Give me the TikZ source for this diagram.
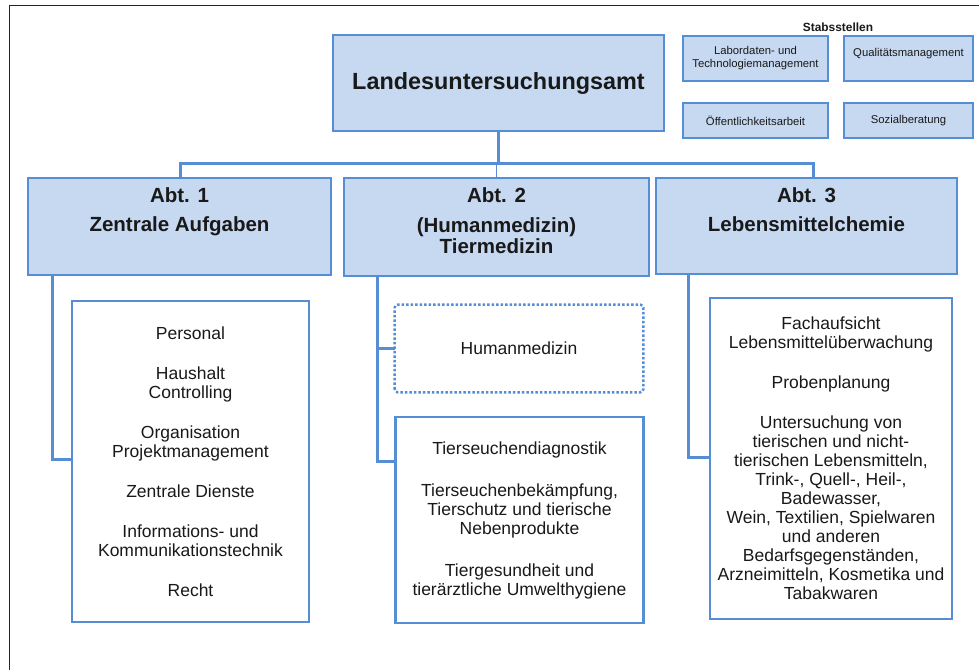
\documentclass[tikz,border=0pt]{standalone}
\usepackage{fontspec}
\setmainfont{Liberation Sans}
\usepackage{tikz}
\usetikzlibrary{positioning,calc}
\definecolor{lublau}{RGB}{85,142,213}
\definecolor{luhell}{RGB}{198,217,241}
\definecolor{lutext}{RGB}{25,25,25}

\begin{document}
\begin{tikzpicture}[
    x=1pt, y=-1pt,
    amt/.style={draw=lublau, line width=2.6pt, fill=luhell, inner sep=0pt, text=lutext, font=\bfseries\fontsize{23.4}{26}\selectfont},
    abt/.style={draw=lublau, line width=2.6pt, fill=luhell},
    abttxt/.style={anchor=north, inner sep=0pt, outer sep=0pt, align=center, text=lutext, font=\bfseries\fontsize{20.5}{20.5}\selectfont},
    inhalt/.style={draw=lublau, line width=2.6pt, fill=white, align=center, inner sep=2pt, text=lutext, font=\fontsize{17.5}{19}\selectfont},
    stab/.style={draw=lublau, line width=2pt, fill=luhell, align=center, inner sep=1pt, text=lutext, font=\fontsize{11.3}{13}\selectfont},
    verb/.style={draw=lublau, line width=3pt},
    rahmen/.style={draw=black!85, line width=1.5pt}
]
\useasboundingbox (0,0) rectangle (979,670);
\draw[rahmen] (9.5,670) -- (9.5,5.5) -- (979,5.5);

\node[amt, minimum width=331pt, minimum height=96pt] (amt) at (498.5,83) {Landesuntersuchungsamt};

\node[font=\bfseries\fontsize{11.9}{13}\selectfont, text=lutext, inner sep=0pt] (stabs) at (838,27) {Stabsstellen};
\node[stab, minimum width=145pt, minimum height=45pt] (labor) at (755.5,58.5) {Labordaten- und\\Technologiemanagement};
\node[stab, minimum width=129pt, minimum height=45pt] (quali) at (908.5,58.5) {Qualitätsmanagement\\\mbox{}};
\node[stab, minimum width=145pt, minimum height=35pt] (oeff) at (755.5,120.5) {Öffentlichkeitsarbeit};
\node[stab, minimum width=129pt, minimum height=35pt] (sozial) at (908.5,120.5) {Sozialberatung};

\node[abt, minimum width=303pt, minimum height=97pt] (abt1) at (179.5,226.5) {};
\node[abt, minimum width=305pt, minimum height=98pt] (abt2) at (496.5,227) {};
\node[abt, minimum width=301pt, minimum height=96pt] (abt3) at (806.5,226) {};
\node[abttxt] (abt1txt) at ([yshift=-10.5pt]abt1.north) {Abt. 1\\[9pt]Zentrale Aufgaben};
\node[abttxt] (abt2txt) at ([yshift=-10.5pt]abt2.north) {Abt. 2\\[10pt](Humanmedizin)\\Tiermedizin};
\node[abttxt] (abt3txt) at ([yshift=-10.5pt]abt3.north) {Abt. 3\\[9pt]Lebensmittelchemie};

\node[inhalt, minimum width=237pt, minimum height=321pt] (zentral) at (190.5,461.5) {Personal\\[21pt]Haushalt\\Controlling\\[21pt]Organisation\\Projektmanagement\\[21pt]Zentrale Dienste\\[21pt]Informations- und\\Kommunikationstechnik\\[21pt]Recht};
\node[inhalt, draw=none, minimum width=246pt, minimum height=85pt] (human) at (519,348.5) {Humanmedizin};
\draw[draw=lublau, line width=2.5pt, dash pattern=on 2.5pt off 2pt, rounded corners=3pt] (human.south west) rectangle (human.north east);
\node[inhalt, minimum width=248pt, minimum height=206pt] (tier) at (519.5,520) {Tierseuchendiagnostik\\[23pt]Tierseuchenbekämpfung,\\Tierschutz und tierische\\Nebenprodukte\\[23pt]Tiergesundheit und\\tierärztliche Umwelthygiene};
\node[inhalt, minimum width=242pt, minimum height=321pt] (lebensm) at (831,458.5) {Fachaufsicht\\Lebensmittelüberwachung\\[21pt]Probenplanung\\[21pt]Untersuchung von\\tierischen und nicht-\\tierischen Lebensmitteln,\\Trink-, Quell-, Heil-,\\Badewasser,\\Wein, Textilien, Spielwaren\\und anderen\\Bedarfsgegenständen,\\Arzneimitteln, Kosmetika und\\Tabakwaren};

\coordinate (busl) at (180,163);
\coordinate (busr) at (813,163);
\coordinate (knick1) at (52,459);
\coordinate (knick2) at (377,461);
\coordinate (knick3) at (688,457);

\draw[verb] (amt.south) -- (amt.south |- busl);
\draw[verb] (abt1.north -| busl) -- (busl) -- (busr) -- (abt3.north -| busr);
\draw[draw=lublau, line width=1.5pt] (abt2.north |- busl) -- (abt2.north);
\draw[verb] (abt1.south -| knick1) -- (knick1) -- (zentral.west |- knick1);
\draw[verb] (abt2.south -| knick2) -- (knick2) -- (tier.west |- knick2);
\draw[verb] (human.west -| knick2) -- (human.west);
\draw[verb] (abt3.south -| knick3) -- (knick3) -- (lebensm.west |- knick3);
\end{tikzpicture}
\end{document}
